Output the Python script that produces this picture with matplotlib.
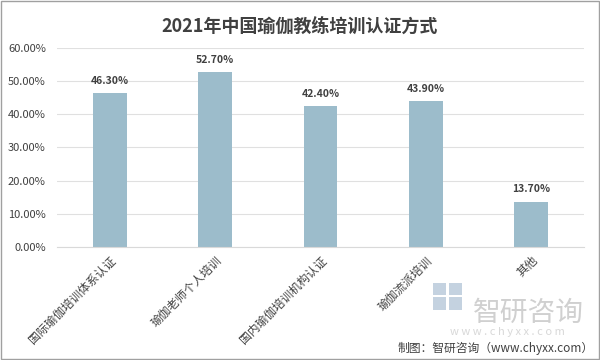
import matplotlib.pyplot as plt
from matplotlib.ticker import FuncFormatter

plt.rcParams['font.family'] = ['Noto Sans CJK SC', 'DejaVu Sans']

categories = ["国际瑜伽培训体系认证", "瑜伽老师个人培训", "国内瑜伽培训机构认证", "瑜伽流派培训", "其他"]
shares = [46.30, 52.70, 42.40, 43.90, 13.70]

fig = plt.figure(figsize=(6, 3.6), dpi=100)
ax = fig.add_axes([0.095, 0.314, 0.878, 0.553])

x = range(len(categories))
ax.bar(x, shares, width=0.32, color="#9cbccb", zorder=2)
for i, v in zip(x, shares):
    ax.text(i, v + 2.2, f"{v:.2f}%", ha="center", va="bottom", fontsize=7.5,
            fontweight="bold", color="#404040")

ax.set_ylim(0, 60)
ax.set_xlim(-0.5, len(categories) - 0.5)
ax.set_yticks(range(0, 61, 10))
ax.yaxis.set_major_formatter(FuncFormatter(lambda v, p: f"{v:.2f}%"))
ax.grid(axis="y", color="#e0e0e0", linewidth=0.8, zorder=0)
ax.set_xticks(list(x))
ax.set_xticklabels(categories, rotation=45, ha="right", rotation_mode="anchor",
                   fontsize=8.5, color="#404040")
ax.tick_params(axis="y", labelsize=8, labelcolor="#404040", length=0, pad=8)
ax.tick_params(axis="x", length=0, pad=5)
for s in ax.spines.values():
    s.set_visible(False)
ax.spines["bottom"].set_visible(True)
ax.spines["bottom"].set_color("#d9d9d9")

fig.text(0.5, 0.928, "2021年中国瑜伽教练培训认证方式", ha="center", va="center",
         fontsize=13, fontweight="bold", color="#404040")

# watermark logo + text
logo_color = "#c4d2e0"
for (lx, ly, w, h) in [(0.722, 0.14, 0.022, 0.035), (0.748, 0.14, 0.022, 0.035),
                       (0.722, 0.18, 0.022, 0.035), (0.748, 0.18, 0.022, 0.035)]:
    fig.patches.append(plt.Rectangle((lx, ly), w, h, transform=fig.transFigure,
                                     color=logo_color, linewidth=0))
fig.text(0.88, 0.13, "智研咨询", fontsize=20, color="#d0d0d0", ha="center", va="center")
fig.text(0.845, 0.078, "w w w . c h y x x . c o m", fontsize=8, color="#d8d8d8",
         ha="center", va="center")
fig.text(0.99, 0.032, "制图：智研咨询（www.chyxx.com）", fontsize=8.5, color="#404040",
         ha="right", va="center")

fig.patches.append(plt.Rectangle((0.002, 0.003), 0.996, 0.994, transform=fig.transFigure,
                                 fill=False, edgecolor="#a0a0a0", linewidth=1))

fig.savefig("out.png", dpi=100)
